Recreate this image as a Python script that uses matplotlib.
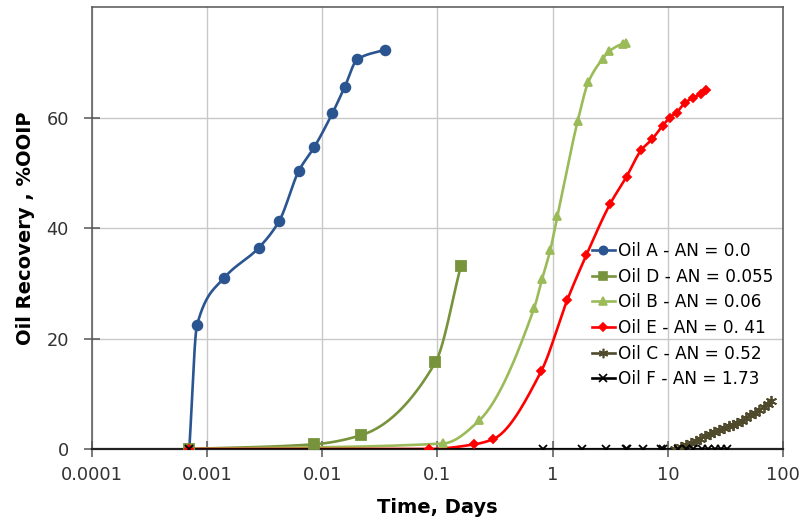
import numpy as np
import matplotlib
matplotlib.use('Agg')
import matplotlib.pyplot as plt

plt.rcParams['font.family'] = ['DejaVu Sans']

# Oil recovery data (time in days, recovery in %OOIP)
oil_a_t = [0.0007, 0.000816, 0.00141, 0.0028, 0.00423, 0.00627, 0.00855, 0.01225, 0.0157, 0.0201, 0.0353]
oil_a_r = [0.0, 22.4, 31.0, 36.4, 41.3, 50.4, 54.7, 60.8, 65.6, 70.5, 72.3]

oil_d_t = [0.0007, 0.0084, 0.0217, 0.096, 0.160]
oil_d_r = [0.0, 0.85, 2.5, 15.7, 33.2]

oil_b_t = [0.0007, 0.112, 0.231, 0.69, 0.81, 0.953, 1.10, 1.65, 2.04, 2.71, 3.10, 4.05, 4.3]
oil_b_r = [0.0, 1.0, 5.2, 25.5, 30.8, 36.0, 42.2, 59.4, 66.4, 70.6, 72.0, 73.3, 73.4]

oil_e_t = [0.0007, 0.084, 0.209, 0.305, 0.796, 1.34, 1.96, 3.16, 4.38, 5.87, 7.31, 9.0,
           10.4, 11.9, 14.0, 16.6, 19.5, 21.5]
oil_e_r = [0.0, 0.0, 0.85, 1.8, 14.1, 27.0, 35.1, 44.4, 49.3, 54.1, 56.1, 58.5,
           60.0, 60.9, 62.6, 63.6, 64.3, 65.0]

oil_c_t = [11.5, 13, 14.5, 16, 17.5, 19, 21, 23, 25, 28, 31, 34, 37, 40, 44, 48,
           52, 57, 62, 68, 74, 78]
oil_c_r = [0.0, 0.3, 0.7, 1.1, 1.5, 1.9, 2.3, 2.7, 3.0, 3.4, 3.8, 4.1, 4.4, 4.8, 5.1, 5.6,
           6.1, 6.6, 7.0, 7.6, 8.2, 8.7]

oil_f_t = [0.0007, 0.82, 1.81, 2.90, 4.30, 4.44, 6.1, 8.75, 9.1, 12.3, 14.5, 16.6,
           19.6, 22.4, 25.6, 29.2, 32.7]
oil_f_r = [0.0] * len(oil_f_t)

labels = ['Oil A - AN = 0.0', 'Oil D - AN = 0.055', 'Oil B - AN = 0.06',
          'Oil E - AN = 0. 41', 'Oil C - AN = 0.52', 'Oil F - AN = 1.73']


def smooth(t, r, n=30):
    """Monotone cubic (PCHIP) path through the points in log-x space."""
    x = np.log10(np.asarray(t, float))
    y = np.asarray(r, float)
    h = np.diff(x)
    delta = np.diff(y) / h
    d = np.zeros_like(y)
    d[0], d[-1] = delta[0], delta[-1]
    for k in range(1, len(x) - 1):
        if delta[k - 1] * delta[k] > 0:
            w1 = 2 * h[k] + h[k - 1]
            w2 = h[k] + 2 * h[k - 1]
            d[k] = (w1 + w2) / (w1 / delta[k - 1] + w2 / delta[k])
    xs, ys = [], []
    s = np.linspace(0, 1, n, endpoint=False)
    for k in range(len(x) - 1):
        h00 = 2 * s ** 3 - 3 * s ** 2 + 1
        h10 = s ** 3 - 2 * s ** 2 + s
        h01 = -2 * s ** 3 + 3 * s ** 2
        h11 = s ** 3 - s ** 2
        xs.extend(x[k] + s * h[k])
        ys.extend(h00 * y[k] + h10 * h[k] * d[k] + h01 * y[k + 1] + h11 * h[k] * d[k + 1])
    xs.append(x[-1])
    ys.append(y[-1])
    return 10 ** np.array(xs), np.array(ys)


fig = plt.figure(figsize=(8.06, 5.22), dpi=100)
ax = fig.add_axes([0.1141, 0.1398, 0.8574, 0.8468])

series = [
    (oil_a_t, oil_a_r, '#2A5591', 'o', 7),
    (oil_d_t, oil_d_r, '#77933C', 's', 6.5),
    (oil_b_t, oil_b_r, '#9BBB59', '^', 6),
    (oil_e_t, oil_e_r, '#FF0000', 'D', 4.5),
    (oil_c_t, oil_c_r, '#4F4A2C', (6, 2, 0), 8),
    (oil_f_t, oil_f_r, '#000000', 'x', 6),
]

for (t, r, color, marker, ms), label in zip(series, labels):
    st, sr = smooth(t, r)
    ax.plot(st, sr, color=color, lw=1.9, zorder=3)
    ax.plot(t, r, linestyle='none', marker=marker, color=color, ms=ms,
            mew=1.3, zorder=4)
    # legend proxy
    ax.plot([], [], color=color, lw=1.9, marker=marker, ms=ms * 0.85, mew=1.2, label=label)

ax.set_xscale('log')
ax.set_xlim(0.0001, 100)
ax.set_ylim(0, 80)
ax.set_yticks([0, 20, 40, 60])
ax.set_xticks([0.0001, 0.001, 0.01, 0.1, 1, 10, 100])
ax.set_xticklabels(['0.0001', '0.001', '0.01', '0.1', '1', '10', '100'])
ax.minorticks_off()
ax.grid(True, color='#C8C8C8', lw=1.0, zorder=0)
ax.set_axisbelow(True)

for sp in ax.spines.values():
    sp.set_color('#555555')
    sp.set_linewidth(1.1)
ax.spines['bottom'].set_color('#222222')
ax.spines['bottom'].set_linewidth(1.6)

ax.tick_params(direction='inout', length=11, width=1.1, color='#555555',
               labelsize=12.8, labelcolor='#333333')
ax.tick_params(axis='x', pad=7)
ax.tick_params(axis='y', pad=11)

ax.set_xlabel('Time, Days', fontsize=14, fontweight='bold')
ax.set_ylabel('Oil Recovery , %OOIP', fontsize=14, fontweight='bold')
ax.xaxis.set_label_coords(0.5, -0.11)
ax.yaxis.set_label_coords(-0.083, 0.5)

ax.legend(loc='upper left', bbox_to_anchor=(0.723, 0.468), frameon=False,
          fontsize=12.2, handlelength=1.4, handletextpad=0.15, labelspacing=0.45,
          borderaxespad=0, borderpad=0)

fig.savefig('out.png', dpi=100)
